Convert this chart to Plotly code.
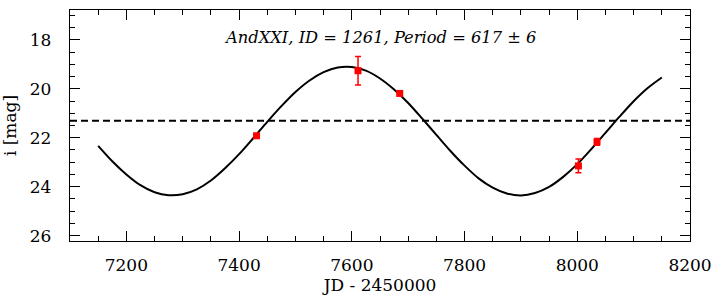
import plotly.graph_objects as go

# Observations
obs_jd = [7431, 7611, 7685, 8002, 8035]
obs_mag = [21.92, 19.26, 20.19, 23.15, 22.17]
obs_err = [0.04, 0.58, 0.06, 0.28, 0.14]

# Fitted light-curve model, every 25 days
model_jd = [7150, 7175, 7200, 7225, 7250, 7275, 7300, 7325, 7350, 7375, 7400,
            7425, 7450, 7475, 7500, 7525, 7550, 7575, 7600, 7625, 7650,
            7675, 7700, 7725, 7750, 7775, 7800, 7825, 7850, 7875, 7900,
            7925, 7950, 7975, 8000, 8025, 8050, 8075, 8100, 8125, 8150]
model_mag = [22.33, 22.96, 23.50, 23.94, 24.23, 24.35, 24.31, 24.11, 23.75, 23.25, 22.67,
             22.02, 21.35, 20.71, 20.13, 19.66, 19.32, 19.13, 19.11, 19.26, 19.58,
             20.03, 20.58, 21.22, 21.88, 22.54, 23.14, 23.66, 24.04, 24.28, 24.36,
             24.26, 24.01, 23.60, 23.08, 22.46, 21.80, 21.14, 20.51, 19.97, 19.54]

mean_mag = 21.31
title_text = "AndXXI, ID = 1261, Period = 617 ± 6"

font = "DejaVu Serif"

fig = go.Figure()
fig.add_trace(go.Scatter(
    x=model_jd, y=model_mag, mode="lines",
    line=dict(color="black", width=2, shape="spline", smoothing=0.8),
    hoverinfo="skip", showlegend=False))
fig.add_trace(go.Scatter(
    x=obs_jd, y=obs_mag, mode="markers",
    marker=dict(symbol="square", size=7, color="#ff0000", line=dict(width=0)),
    error_y=dict(type="data", array=obs_err, visible=True, color="#ff0000", thickness=1.5, width=3),
    showlegend=False))

fig.add_shape(type="line", xref="paper", yref="y", x0=0, x1=1, y0=mean_mag, y1=mean_mag,
              line=dict(color="black", width=2, dash="7px,4px"))

fig.add_annotation(text=title_text, xref="paper", yref="paper", x=0.5, y=0.88,
                   showarrow=False, font=dict(family=font, size=16.3, color="black", style="italic"),
                   xanchor="center", yanchor="middle")

axis_common = dict(
    showgrid=False, zeroline=False, showline=True, linecolor="black", linewidth=1.3,
    mirror="allticks", ticks="inside", tickcolor="black", tickwidth=1.3, ticklen=10,
    tickfont=dict(family=font, size=17, color="black"),
)

fig.update_xaxes(**axis_common, range=[7100, 8200], dtick=200, tick0=7200,
                 minor=dict(dtick=50, ticks="inside", ticklen=5, tickcolor="black", tickwidth=1.1),
                 ticklabelstandoff=8,
                 title=dict(text="JD - 2450000", font=dict(family=font, size=17, color="black"), standoff=4))
fig.update_yaxes(**axis_common, range=[26.22, 16.78], dtick=2, tick0=18,
                 minor=dict(dtick=0.5, ticks="inside", ticklen=5, tickcolor="black", tickwidth=1.1),
                 ticklabelstandoff=14,
                 title=dict(text="i [mag]", font=dict(family=font, size=17, color="black"), standoff=8))

fig.update_layout(
    width=723, height=306, margin=dict(l=70, r=33, t=10, b=65),
    paper_bgcolor="white", plot_bgcolor="white",
)

fig.write_html("out.html", config={"displayModeBar": False},
               post_script="document.body.style.margin='0';document.body.style.overflow='hidden';")
